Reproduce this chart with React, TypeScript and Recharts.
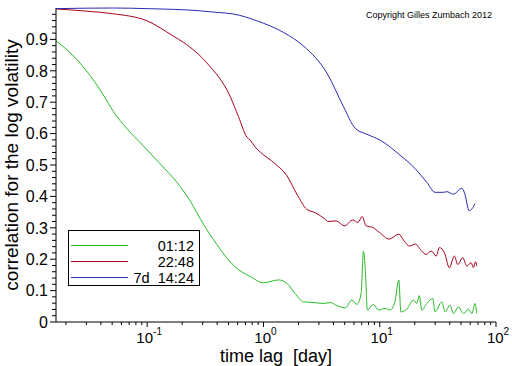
import { LineChart, Line, XAxis, YAxis, Legend } from 'recharts';

// lag in days, correlation of the log volatility
const lagShort = [
  0.0165, 0.02, 0.0335, 0.042, 0.0513, 0.0668, 0.09, 0.129, 0.18, 0.234, 0.305, 0.397, 0.484, 0.59, 0.769,
  1.0, 1.35, 1.59, 1.87, 2.21, 2.7, 3.28, 3.75, 4.3, 5.05, 5.76, 6.36, 6.92, 7.24, 7.53, 7.83, 8.83,
  9.75, 11.1, 12.3, 13.5, 14.6, 15.2, 17.1, 19.5, 20.8, 21.9, 23, 25.4, 28.6, 29.9, 34.2, 36.5, 40.3,
  43, 47.5, 52.5, 58, 62, 66, 68.4,
];
const corrShort = [
  0.895, 0.87, 0.777, 0.723, 0.67, 0.616, 0.566, 0.504, 0.445, 0.386, 0.311, 0.247, 0.204, 0.171, 0.145,
  0.125, 0.134, 0.123, 0.091, 0.064, 0.062, 0.059, 0.062, 0.052, 0.045, 0.07, 0.056, 0.091, 0.225, 0.161, 0.038, 0.056,
  0.038, 0.043, 0.038, 0.064, 0.134, 0.032, 0.041, 0.07, 0.059, 0.084, 0.038, 0.059, 0.075, 0.032, 0.064, 0.032, 0.054,
  0.027, 0.048, 0.027, 0.041, 0.027, 0.059, 0.027,
];

const lagMid = [
  0.0165, 0.03, 0.05, 0.1, 0.167, 0.206, 0.326, 0.518, 0.61, 0.72, 0.77, 0.85, 0.94, 1.26, 1.59,
  1.94, 2.36, 2.79, 3.4, 3.58, 4.22, 4.98, 5.87, 6.49, 7.06, 7.64, 8.73, 9.94, 12.1, 14.6, 15.8,
  18.0, 20.3, 22.7, 25.1, 27.7, 30.6, 32.6, 36.0, 39.7, 43.9, 46.9, 51.8, 56.1, 61.1, 64.0, 66.6, 68.4,
];
const corrMid = [
  0.997, 0.99, 0.982, 0.959, 0.911, 0.89, 0.825, 0.718, 0.654, 0.589, 0.579, 0.557, 0.541, 0.504, 0.466,
  0.407, 0.359, 0.348, 0.327, 0.32, 0.322, 0.306, 0.325, 0.317, 0.336, 0.306, 0.301, 0.285, 0.264, 0.28, 0.264,
  0.242, 0.248, 0.228, 0.215, 0.226, 0.21, 0.237, 0.221, 0.173, 0.21, 0.183, 0.205, 0.178, 0.189, 0.173, 0.192, 0.178,
];

const lagLong = [
  0.0165, 0.05, 0.1, 0.286, 0.397, 0.55, 0.88, 1.49, 2.21, 3.51, 4.88, 6.15, 7.74, 10.1, 15, 20.1,
  25.4, 29.9, 35.2, 37.8, 43, 50.8, 53.4, 59, 66,
];
const corrLong = [
  0.998, 1.0, 0.998, 0.991, 0.986, 0.981, 0.959, 0.922, 0.879, 0.793, 0.686, 0.617, 0.598, 0.579, 0.531, 0.489,
  0.445, 0.413, 0.413, 0.415, 0.407, 0.426, 0.413, 0.354, 0.377,
];

const seriesNames = ['01:12', '22:48', '7d  14:24'];
const seriesColors = ['#28bb28', '#a8001c', '#2a2ab4'];

const xMajor = [0.1, 1, 10, 100];
const xTicks = [
  0.02, 0.03, 0.04, 0.05, 0.06, 0.07, 0.08, 0.09,
  0.1, 0.2, 0.3, 0.4, 0.5, 0.6, 0.7, 0.8, 0.9,
  1, 2, 3, 4, 5, 6, 7, 8, 9,
  10, 20, 30, 40, 50, 60, 70, 80, 90, 100,
];
const yTicks: number[] = [];
for (let i = 0; i < 50; i++) yTicks.push(i / 50);

const toRows = (lags: number[], corrs: number[]) => lags.map((lag, i) => ({ lag, corr: corrs[i] }));
const seriesData = [toRows(lagShort, corrShort), toRows(lagMid, corrMid), toRows(lagLong, corrLong)];

const FONT = "'Liberation Sans', Arial, sans-serif";

function XTick(props: any) {
  const { x, y, payload } = props;
  const v = payload.value as number;
  const major = xMajor.some((m) => Math.abs(m - v) < 1e-9);
  const exp = Math.round(Math.log10(v));
  return (
    <g>
      <line x1={x} x2={x} y1={y} y2={y + (major ? 5 : 3)} stroke="#000" />
      {major && (
        <text x={x + 2} y={y + 21} textAnchor="middle" fontSize={15} fill="#000">
          10<tspan dy={-8} fontSize={10}>{exp}</tspan>
        </text>
      )}
    </g>
  );
}

function YTick(props: any) {
  const { x, y, payload } = props;
  const v = payload.value as number;
  const major = Math.abs(v * 10 - Math.round(v * 10)) < 1e-6;
  return (
    <g>
      <line x1={x - (major ? 6 : 4)} x2={x} y1={y} y2={y} stroke="#000" />
      {major && (
        <text x={x - 8} y={y} dy="0.36em" textAnchor="end" fontSize={16} fill="#000">
          {v === 0 ? '0' : v.toFixed(1)}
        </text>
      )}
    </g>
  );
}

function LegendBox(props: any) {
  const payload = props.payload || [];
  return (
    <div
      style={{
        position: 'relative',
        boxSizing: 'border-box',
        width: 132,
        height: 56,
        border: '1px solid #000',
        background: '#fff',
        fontFamily: FONT,
        fontSize: 14.5,
      }}
    >
      {payload.map((entry: any, i: number) => (
        <div key={entry.value}>
          <div
            style={{ position: 'absolute', left: 2, top: 14 + i * 16, width: 57, height: 1, background: seriesColors[i] }}
          />
          <div
            style={{
              position: 'absolute',
              right: 5,
              top: 6.5 + i * 16,
              lineHeight: '16px',
              whiteSpace: 'pre',
              color: '#000',
            }}
          >
            {entry.value}
          </div>
        </div>
      ))}
    </div>
  );
}

export default function App() {
  return (
    <div style={{ position: 'absolute', left: 0, top: 0, width: 512, height: 366, background: '#fff', fontFamily: FONT }}>
      <LineChart width={512} height={366} margin={{ top: 8, right: 16, bottom: 0, left: 0 }}>
        <XAxis
          dataKey="lag"
          type="number"
          scale="log"
          domain={[0.01644, 100]}
          allowDataOverflow
          ticks={xTicks}
          interval={0}
          tick={<XTick />}
          tickLine={false}
          tickSize={0}
          tickMargin={0}
          height={44}
          axisLine={{ stroke: '#000' }}
          label={{
            content: (p: any) => {
              const vb = p.viewBox || { x: 56, y: 322, width: 440 };
              return (
                <text x={vb.x + vb.width / 2} y={vb.y + 40} textAnchor="middle" fontSize={18} fill="#000" style={{ whiteSpace: 'pre' }}>
                  time lag  [day]
                </text>
              );
            },
          }}
        />
        <YAxis
          type="number"
          domain={[0, 1]}
          ticks={yTicks}
          interval={0}
          tick={<YTick />}
          tickLine={false}
          tickSize={0}
          tickMargin={0}
          width={56}
          axisLine={{ stroke: '#000' }}
          label={{
            content: (p: any) => {
              const vb = p.viewBox || { x: 0, y: 8, height: 314 };
              const cy = vb.y + vb.height / 2;
              return (
                <text x={18} y={cy} textAnchor="middle" fontSize={19} fill="#000" transform={`rotate(-90, 18, ${cy})`}>
                  correlation for the log volatility
                </text>
              );
            },
          }}
        />
        <Legend
          layout="horizontal"
          verticalAlign="middle"
          align="center"
          content={<LegendBox />}
          wrapperStyle={{ left: 68, top: 230, width: 132, height: 56 }}
        />
        {seriesData.map((rows, i) => (
          <Line
            key={seriesNames[i]}
            data={rows}
            dataKey="corr"
            name={seriesNames[i]}
            stroke={seriesColors[i]}
            strokeWidth={1}
            dot={false}
            type="monotone"
            isAnimationActive={false}
          />
        ))}
      </LineChart>
      <div style={{ position: 'absolute', right: 20, top: 10, fontSize: 9, color: '#000' }}>
        Copyright Gilles Zumbach 2012
      </div>
    </div>
  );
}
